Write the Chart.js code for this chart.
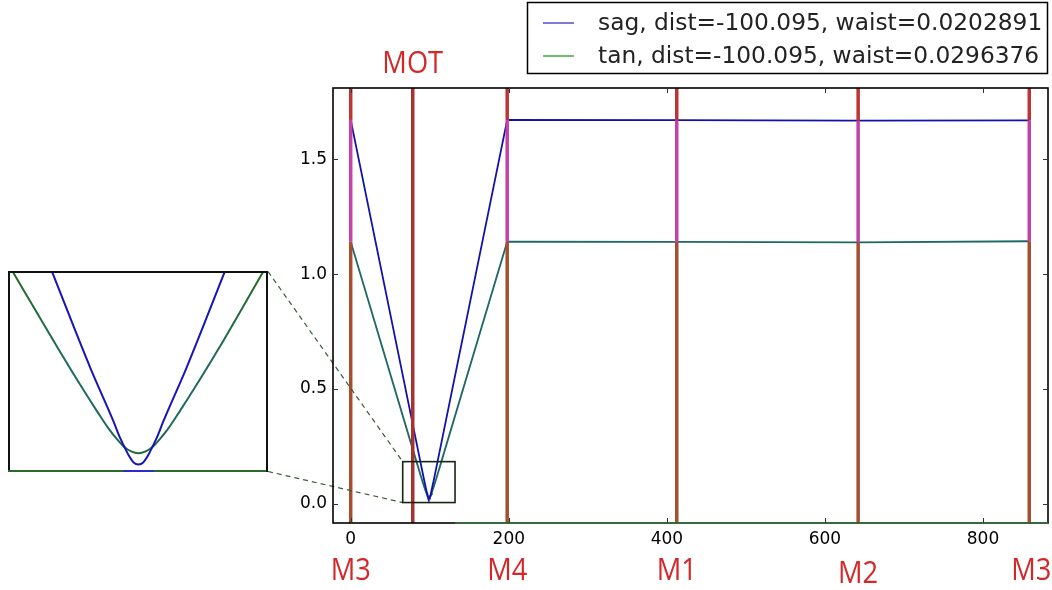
<!DOCTYPE html>
<html>
<head>
<meta charset="utf-8">
<script src="https://cdn.jsdelivr.net/npm/chart.js@4.4.1/dist/chart.umd.min.js"></script>
<style>
  html, body { margin: 0; padding: 0; background: #fff; }
  #wrap { position: relative; width: 1052px; height: 590px; overflow: hidden; }
  #main { position: absolute; left: 0; top: 0; }
  #inset { position: absolute; left: 8px; top: 271px; }
</style>
</head>
<body>
<div id="wrap">
  <canvas id="main" width="1052" height="590"></canvas>
  <canvas id="inset" width="260" height="201"></canvas>
</div>
<script>
// ---- data ----
const sagLabel = 'sag, dist=-100.095, waist=0.0202891';
const tanLabel = 'tan, dist=-100.095, waist=0.0296376';

const sagX = [0, 88.2, 93, 95.9, 96.6, 97.2, 97.8, 98.4, 99, 99.6, 100.2, 100.8, 101.4, 102.1, 105, 109.8, 198, 412.5, 642, 858.5];
const sagY = [1.671, 0.183, 0.102, 0.057, 0.045, 0.0365, 0.0285, 0.0227, 0.021, 0.0227, 0.0285, 0.0365, 0.045, 0.057, 0.102, 0.183, 1.671, 1.670, 1.668, 1.669];

const tanX = [0, 83.3, 89, 92, 94, 95.3, 96.3, 97.2, 98.1, 99, 99.9, 100.8, 101.7, 102.7, 104, 106, 109, 114.6, 198, 412.5, 642, 858.5];
const tanY = [1.141, 0.183, 0.118, 0.085, 0.064, 0.051, 0.0425, 0.036, 0.032, 0.0305, 0.032, 0.036, 0.0425, 0.051, 0.064, 0.085, 0.118, 0.183, 1.141, 1.140, 1.138, 1.143];

const mirrorNames = ['M3', 'MOT', 'M4', 'M1', 'M2', 'M3'];
const mirrorX = [0, 78.5, 198, 412.5, 642, 858.5];

const xTicks = [0, 200, 400, 600, 800];
const yTicks = [0.0, 0.5, 1.0, 1.5];

// view ranges
const xRange = [-22.4, 882.2];
const yRange = [-0.083, 1.81];
const insetX = [82.7, 115.2];
const insetY = [0.0147, 0.1836];
const zoomBox = { x0: 65.8, x1: 132, y0: 0.006, y1: 0.184 };

// ---- colours ----
const SAG = '#1212a8';
const TAN = '#1f6864';
const MIR_LOW = '#a2502f';
const MIR_MID = '#c242aa';
const MIR_TOP = '#bc3434';
const MOT_COL = '#a83232';
const LABEL_RED = '#d42828';

const pts = (xs, ys) => xs.map((x, i) => ({ x: x, y: ys[i] }));

function mirrorDataset(mx) {
  const si = sagX.indexOf(mx), ti = tanX.indexOf(mx);
  if (si < 0 || ti < 0) {
    return {
      data: [{ x: mx, y: -0.2 }, { x: mx, y: 2 }],
      borderColor: MOT_COL, borderWidth: 3.5, pointRadius: 0, order: 0
    };
  }
  const cols = [MIR_LOW, MIR_MID, MIR_TOP];
  return {
    data: [{ x: mx, y: -0.2 }, { x: mx, y: tanY[ti] }, { x: mx, y: sagY[si] }, { x: mx, y: 2 }],
    borderColor: MIR_LOW, borderWidth: 3.5, pointRadius: 0, order: 0,
    segment: { borderColor: c => cols[c.p0DataIndex] }
  };
}

// ---- main chart decorations ----
const mainDeco = {
  id: 'mainDeco',
  afterDatasetsDraw(chart) {
    const { ctx, chartArea: a, scales: { x, y } } = chart;
    ctx.save();
    // zoom rectangle + connectors
    const rx0 = x.getPixelForValue(zoomBox.x0), rx1 = x.getPixelForValue(zoomBox.x1);
    const ry0 = y.getPixelForValue(zoomBox.y1), ry1 = y.getPixelForValue(zoomBox.y0);
    ctx.setLineDash([5, 4]);
    ctx.strokeStyle = '#3b5c3b';
    ctx.lineWidth = 1.2;
    ctx.beginPath();
    ctx.moveTo(268, 271.5); ctx.lineTo(rx0, ry0);
    ctx.moveTo(268, 471.5); ctx.lineTo(rx0, ry1);
    ctx.stroke();
    ctx.setLineDash([]);
    ctx.strokeStyle = '#122812';
    ctx.lineWidth = 1.6;
    ctx.strokeRect(rx0, ry0, rx1 - rx0, ry1 - ry0);

    // frame
    ctx.strokeStyle = '#000';
    ctx.lineWidth = 1.6;
    ctx.strokeRect(a.left, a.top, a.right - a.left, a.bottom - a.top);
    // green trace along the bottom
    ctx.strokeStyle = '#3c7a3c';
    ctx.lineWidth = 1.6;
    ctx.beginPath();
    ctx.moveTo(x.getPixelForValue(zoomBox.x1), a.bottom);
    ctx.lineTo(a.right, a.bottom);
    ctx.stroke();

    // inward ticks
    ctx.strokeStyle = '#333';
    ctx.lineWidth = 1;
    ctx.beginPath();
    xTicks.forEach(v => {
      const px = Math.round(x.getPixelForValue(v)) + 0.5;
      ctx.moveTo(px, a.bottom); ctx.lineTo(px, a.bottom - 5);
      ctx.moveTo(px, a.top); ctx.lineTo(px, a.top + 5);
    });
    yTicks.forEach(v => {
      const py = Math.round(y.getPixelForValue(v)) + 0.5;
      ctx.moveTo(a.left, py); ctx.lineTo(a.left + 5, py);
      ctx.moveTo(a.right, py); ctx.lineTo(a.right - 5, py);
    });
    ctx.stroke();
    ctx.restore();
  },
  afterDraw(chart) {
    const { ctx, scales: { x } } = chart;
    ctx.save();
    // mirror names
    ctx.fillStyle = LABEL_RED;
    ctx.font = '31px "Open Sans"';
    ctx.textAlign = 'center';
    ctx.textBaseline = 'middle';
    mirrorNames.forEach((name, i) => {
      const px = x.getPixelForValue(mirrorX[i]);
      let py = name === 'MOT' ? 64 : 571;
      if (name === 'M2') py += 3;
      ctx.save();
      ctx.translate(px + (i === mirrorNames.length - 1 ? 2 : 0), py);
      ctx.scale(0.88, 1);
      ctx.fillText(name, 0, 0);
      ctx.restore();
    });

    // legend
    ctx.fillStyle = '#fff';
    ctx.fillRect(527, 2, 521, 72);
    ctx.strokeStyle = '#000';
    ctx.lineWidth = 1.5;
    ctx.strokeRect(527.5, 2.5, 520, 71);
    const items = [[sagLabel, '#7b78e0', 23], [tanLabel, '#6cbf6c', 56]];
    ctx.font = '23.3px "DejaVu Sans"';
    ctx.textAlign = 'left';
    ctx.textBaseline = 'middle';
    items.forEach(([txt, col, ly]) => {
      ctx.strokeStyle = col;
      ctx.lineWidth = 2;
      ctx.beginPath();
      ctx.moveTo(543, ly); ctx.lineTo(574, ly);
      ctx.stroke();
      ctx.fillStyle = '#222';
      ctx.fillText(txt, 598, ly + 1);
    });
    ctx.restore();
  }
};

const tickFont = { family: 'DejaVu Sans', size: 17 };

new Chart(document.getElementById('main'), {
  type: 'line',
  data: {
    datasets: [
      { label: sagLabel, data: pts(sagX, sagY), borderColor: SAG, borderWidth: 1.8, pointRadius: 0, order: 1 },
      { label: tanLabel, data: pts(tanX, tanY), borderColor: TAN, borderWidth: 1.8, pointRadius: 0, order: 1 },
      ...mirrorX.map(mirrorDataset)
    ]
  },
  options: {
    responsive: false,
    animation: false,
    events: [],
    layout: { padding: { top: 88, right: 4, left: 0, bottom: 0 } },
    plugins: { legend: { display: false }, tooltip: { enabled: false } },
    scales: {
      x: {
        type: 'linear', min: xRange[0], max: xRange[1],
        grid: { display: false, drawTicks: false }, border: { display: false },
        afterBuildTicks: ax => { ax.ticks = xTicks.map(v => ({ value: v })); },
        afterFit: ax => { ax.height = 67; },
        ticks: { font: tickFont, color: '#000', padding: 6, maxRotation: 0, callback: v => String(v) }
      },
      y: {
        type: 'linear', min: yRange[0], max: yRange[1],
        grid: { display: false, drawTicks: false }, border: { display: false },
        afterBuildTicks: ax => { ax.ticks = yTicks.map(v => ({ value: v })); },
        afterFit: ax => { ax.width = 333; },
        ticks: { font: tickFont, color: '#000', padding: 6, callback: v => v.toFixed(1) }
      }
    }
  },
  plugins: [mainDeco]
});

// ---- inset ----
function tanGradient(context) {
  const a = context.chart.chartArea;
  if (!a) return TAN;
  const g = context.chart.ctx.createLinearGradient(0, a.top, 0, a.bottom);
  g.addColorStop(0, '#226c22');
  g.addColorStop(0.5, '#1f6a60');
  g.addColorStop(0.8, '#1f6a5a');
  g.addColorStop(1, '#226c22');
  return g;
}

const insetFrame = {
  id: 'insetFrame',
  afterDatasetsDraw(chart) {
    const { ctx, chartArea: a, scales: { x } } = chart;
    ctx.save();
    ctx.strokeStyle = '#111';
    ctx.lineWidth = 2;
    ctx.strokeRect(a.left + 1, a.top + 1, a.right - a.left - 2, a.bottom - a.top - 2);
    ctx.strokeStyle = '#2a6a2a';
    ctx.beginPath();
    ctx.moveTo(a.left, a.bottom - 1); ctx.lineTo(a.right - 2, a.bottom - 1);
    ctx.stroke();
    ctx.strokeStyle = '#2a2ad0';
    ctx.beginPath();
    ctx.moveTo(x.getPixelForValue(97.1), a.bottom - 1);
    ctx.lineTo(x.getPixelForValue(100.9), a.bottom - 1);
    ctx.stroke();
    ctx.restore();
  }
};

new Chart(document.getElementById('inset'), {
  type: 'line',
  data: {
    datasets: [
      { data: pts(sagX, sagY), borderColor: '#1616b8', borderWidth: 2, pointRadius: 0, cubicInterpolationMode: 'monotone' },
      { data: pts(tanX, tanY), borderColor: tanGradient, borderWidth: 2, pointRadius: 0, cubicInterpolationMode: 'monotone' }
    ]
  },
  options: {
    responsive: false,
    animation: false,
    events: [],
    layout: { padding: 0 },
    plugins: { legend: { display: false }, tooltip: { enabled: false } },
    scales: {
      x: { type: 'linear', display: false, min: insetX[0], max: insetX[1] },
      y: { type: 'linear', display: false, min: insetY[0], max: insetY[1] }
    }
  },
  plugins: [insetFrame]
});
</script>
</body>
</html>
